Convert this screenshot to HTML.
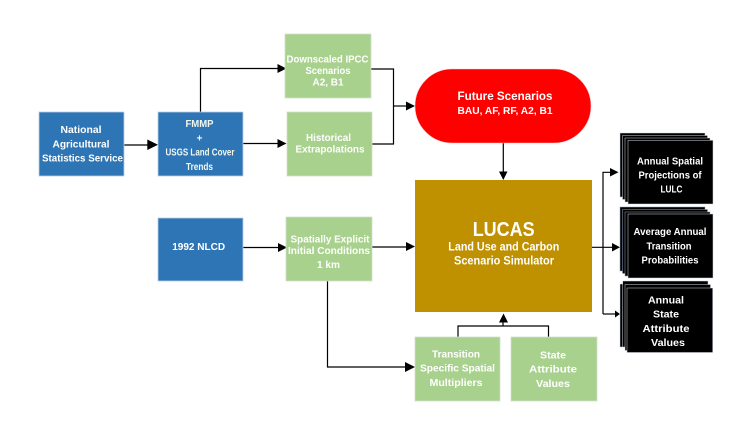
<!DOCTYPE html>
<html>
<head>
<meta charset="utf-8">
<style>
html,body{margin:0;padding:0;background:#fff}
body{width:745px;height:424px;overflow:hidden;position:relative}
svg{position:absolute;left:0;top:0;filter:blur(.3px)}
text{font-family:"Liberation Sans",sans-serif;font-weight:bold;fill:#fff;text-anchor:middle;font-size:10.500px}
.w{fill:#f2f7ee}
.l{stroke:#000;stroke-width:1.200;fill:none}
.b{fill:#2e75b6;stroke:#b9cfe6;stroke-width:.8}
.g{fill:#a9d18e;stroke:#d3dfcb;stroke-width:.8}
</style>
</head>
<body>
<svg width="745" height="424" viewBox="0 0 745 424" xmlns="http://www.w3.org/2000/svg">
<rect width="745" height="424" fill="#fff"/>

<!-- connectors -->
<path class="l" d="M124 145H150" stroke-width="1.400"/><path d="M158 144.800L147.300 139.500V150Z"/>
<path class="l" d="M200.500 112V68.500H280"/><path d="M286.500 68.500L277.500 64V73Z"/>
<path class="l" d="M243 143.500H280"/><path d="M286.500 143.500L277.500 139V148Z"/>
<path class="l" d="M371 69H393.500V144H372"/>
<path class="l" d="M393.500 106H408"/><path d="M415 106L406 101.500V110.500Z"/>
<path class="l" d="M503.300 143V174"/><path d="M503.300 180L499 171.500H507.500Z"/>
<path class="l" d="M243 247.500H280"/><path d="M287 247.500L278 243V252Z"/>
<path class="l" d="M372 247H408"/><path d="M415 246.500L406 242V251Z"/>
<path class="l" d="M327.500 281V367H408"/><path d="M415 367L405 362V372Z"/>
<path class="l" d="M458 337V326H548.500V337"/>
<path class="l" d="M503 326V318"/><path d="M503.500 313.500L499 322.500H508Z"/>
<path class="l" d="M592 247.300H613"/><path d="M620 247.300L612 243V251.500Z"/>
<path class="l" d="M603 314V172.300H612"/><path d="M618.500 172.300L610 168V176.500Z"/>
<path class="l" d="M603 314H616"/><path d="M620 314L615 310.500V317.500Z"/>

<!-- blue boxes -->
<rect class="b" x="39" y="112" width="85" height="64"/>
<rect class="b" x="158" y="112" width="85" height="64"/>
<rect class="b" x="158" y="218" width="85" height="63"/>

<!-- green boxes -->
<rect class="g" x="285" y="34" width="86" height="64"/>
<rect class="g" x="287" y="112" width="85" height="64"/>
<rect class="g" x="286" y="217" width="86" height="64"/>
<rect class="g" x="415" y="337" width="85" height="64"/>
<rect class="g" x="511" y="337" width="86" height="64"/>

<!-- pill + LUCAS -->
<rect x="415" y="69" width="176" height="74" rx="37" ry="37" fill="#ff0000" stroke="#f3c9c9" stroke-width=".6"/>
<rect x="415" y="180" width="177" height="132" fill="#bf9000"/>

<!-- black stacks -->
<g fill="#000" stroke="#d0d8e0" stroke-width=".5">
<rect x="620" y="133" width="85" height="64"/>
<rect x="622.500" y="135.500" width="85" height="64"/>
<rect x="625" y="138" width="85" height="64"/>
<rect x="628" y="140.300" width="85" height="63.700"/>
<rect x="620" y="207" width="85" height="64" stroke="#8fa6bd"/>
<rect x="622.500" y="209.500" width="85" height="64" stroke="#8fa6bd"/>
<rect x="625" y="212" width="85" height="64" stroke="#8fa6bd"/>
<rect x="628" y="214" width="85" height="64"/>
<rect x="620" y="284" width="85" height="63"/>
<rect x="622.700" y="281" width="85.300" height="66"/>
<rect x="625" y="284.500" width="85.500" height="66"/>
<rect x="627" y="288" width="85.700" height="64.500"/>
</g>

<!-- labels -->
<text x="81" y="133" textLength="41" lengthAdjust="spacingAndGlyphs">National</text>
<text x="81" y="147.700" textLength="57" lengthAdjust="spacingAndGlyphs">Agricultural</text>
<text x="82.500" y="161.700" textLength="81" lengthAdjust="spacingAndGlyphs">Statistics Service</text>

<text class="w" x="199.500" y="127" textLength="28" lengthAdjust="spacingAndGlyphs">FMMP</text>
<text class="w" x="199.500" y="141.500" textLength="6" lengthAdjust="spacingAndGlyphs">+</text>
<text class="w" x="200" y="155.700" textLength="69" lengthAdjust="spacingAndGlyphs">USGS Land Cover</text>
<text class="w" x="199.500" y="170" textLength="27" lengthAdjust="spacingAndGlyphs">Trends</text>

<text x="327.500" y="62.700" textLength="82" lengthAdjust="spacingAndGlyphs">Downscaled IPCC</text>
<text x="328" y="74" textLength="45" lengthAdjust="spacingAndGlyphs">Scenarios</text>
<text x="328" y="85.700" textLength="31" lengthAdjust="spacingAndGlyphs">A2, B1</text>

<text x="328.500" y="141" textLength="45" lengthAdjust="spacingAndGlyphs">Historical</text>
<text x="330" y="152.700" textLength="69" lengthAdjust="spacingAndGlyphs">Extrapolations</text>

<text x="198.700" y="250" textLength="53" lengthAdjust="spacingAndGlyphs">1992 NLCD</text>

<text x="330" y="242.700" textLength="79" lengthAdjust="spacingAndGlyphs">Spatially Explicit</text>
<text x="329" y="254" textLength="82" lengthAdjust="spacingAndGlyphs">Initial Conditions</text>
<text x="328.500" y="268" textLength="23" lengthAdjust="spacingAndGlyphs">1 km</text>

<text x="505" y="100" style="font-size:12px" textLength="95" lengthAdjust="spacingAndGlyphs">Future Scenarios</text>
<text x="505" y="114" style="font-size:10px" textLength="95" lengthAdjust="spacingAndGlyphs">BAU, AF, RF, A2, B1</text>

<text x="503.700" y="236" style="font-size:20px" textLength="62" lengthAdjust="spacingAndGlyphs">LUCAS</text>
<text x="503.800" y="250.700" style="font-size:11.500px" textLength="111" lengthAdjust="spacingAndGlyphs">Land Use and Carbon</text>
<text x="504" y="264.700" style="font-size:11.500px" textLength="100" lengthAdjust="spacingAndGlyphs">Scenario Simulator</text>

<text x="456" y="357.300" textLength="48" lengthAdjust="spacingAndGlyphs">Transition</text>
<text x="457.500" y="371.700" textLength="75" lengthAdjust="spacingAndGlyphs">Specific Spatial</text>
<text x="456" y="386" textLength="53" lengthAdjust="spacingAndGlyphs">Multipliers</text>

<text x="553" y="358.300" textLength="26" lengthAdjust="spacingAndGlyphs">State</text>
<text x="553" y="372.700" textLength="48" lengthAdjust="spacingAndGlyphs">Attribute</text>
<text x="553" y="387" textLength="34" lengthAdjust="spacingAndGlyphs">Values</text>

<text x="670" y="164.500" textLength="66" lengthAdjust="spacingAndGlyphs">Annual Spatial</text>
<text x="670" y="178.700" textLength="63" lengthAdjust="spacingAndGlyphs">Projections of</text>
<text x="671.500" y="192.700" textLength="22" lengthAdjust="spacingAndGlyphs">LULC</text>

<text x="670" y="235" textLength="73" lengthAdjust="spacingAndGlyphs">Average Annual</text>
<text x="669" y="249.300" textLength="45" lengthAdjust="spacingAndGlyphs">Transition</text>
<text x="670" y="263.700" textLength="57" lengthAdjust="spacingAndGlyphs">Probabilities</text>

<text x="666" y="303.700" textLength="36" lengthAdjust="spacingAndGlyphs">Annual</text>
<text x="666" y="317.700" textLength="26" lengthAdjust="spacingAndGlyphs">State</text>
<text x="666" y="332" textLength="47" lengthAdjust="spacingAndGlyphs">Attribute</text>
<text x="668" y="346" textLength="34" lengthAdjust="spacingAndGlyphs">Values</text>
</svg>
</body>
</html>
